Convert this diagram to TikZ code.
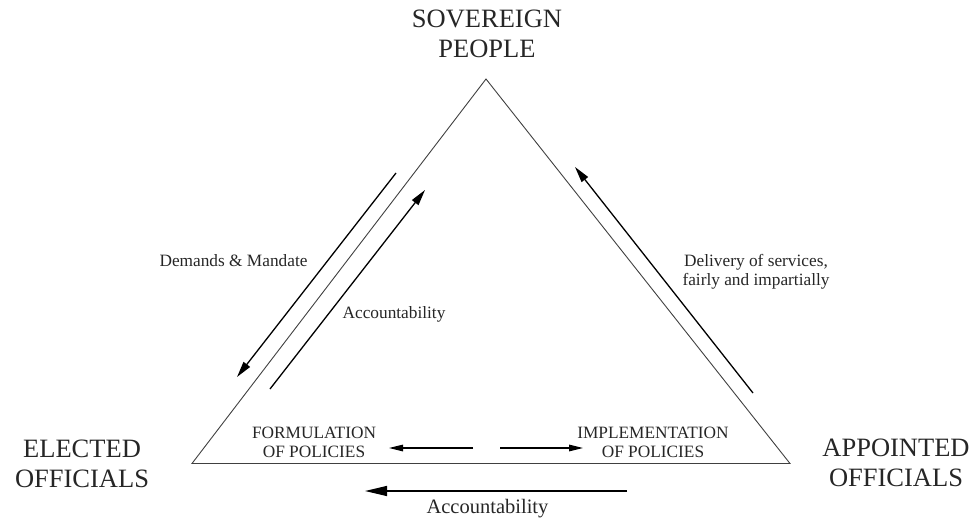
\documentclass[tikz,border=0pt]{standalone}
\usepackage{fontspec}
\setmainfont{Liberation Serif}
\usetikzlibrary{arrows.meta}
\begin{document}
\begin{tikzpicture}[x=1pt,y=-1pt,
  tri/.style={draw=black!75, line width=0.9pt},
  sidearrow/.style={draw=black, line width=1.3pt, -{Triangle[length=16pt,width=8pt]}},
  innerarrow/.style={draw=black, line width=1.3pt, -{Triangle[length=14pt,width=6.5pt]}},
  bottomarrow/.style={draw=black, line width=1.3pt, -{Triangle[length=22pt,width=10pt]}},
  biglabel/.style={font=\fontsize{26.5}{30}\selectfont, align=center, inner sep=0pt, text=black!85},
  smalllabel/.style={font=\fontsize{17.3}{19}\selectfont, align=center, inner sep=0pt, text=black!85},
  midlabel/.style={font=\fontsize{20.5}{24}\selectfont, inner sep=0pt, text=black!85}
]
\useasboundingbox (0,0) rectangle (974,519);
% triangle
\coordinate (apex) at (486,79);
\coordinate (bl) at (192,463.5);
\coordinate (br) at (790,463.5);
\draw[tri] (apex) -- (bl) -- (br) -- cycle;
% corner labels
\node[biglabel] (sov) at (487,34.3) {SOVEREIGN\\PEOPLE};
\node[biglabel] (ele) at (82,464) {ELECTED\\OFFICIALS};
\node[biglabel] (app) at (896,463) {APPOINTED\\OFFICIALS};
% inner labels
\node[smalllabel] (form) at (314,442.7) {FORMULATION\\OF POLICIES};
\node[smalllabel] (impl) at (653,442.5) {IMPLEMENTATION\\OF POLICIES};
% side labels
\node[smalllabel, anchor=base] (dem) at (233.5,266) {Demands \& Mandate};
\node[smalllabel, anchor=base] (acc1) at (394,318) {Accountability};
\node[smalllabel, font=\fontsize{17.3}{18.5}\selectfont] (del) at (756,272) {Delivery of services,\\fairly and impartially};
\node[midlabel, anchor=base] (acc2) at (487.5,513) {Accountability};
% side arrows
\coordinate (dmS) at (396,173);
\coordinate (dmE) at (237,377);
\draw[sidearrow] (dmS) -- (dmE);
\coordinate (acS) at (270,389);
\coordinate (acE) at (425,190);
\draw[sidearrow] (acS) -- (acE);
\coordinate (dvS) at (753,393);
\coordinate (dvE) at (575,167);
\draw[sidearrow] (dvS) -- (dvE);
% inner arrows
\coordinate (fS) at (473,448);
\coordinate (fE) at (389,448);
\draw[innerarrow] (fS) -- (fE);
\coordinate (iS) at (500,448);
\coordinate (iE) at (583,448);
\draw[innerarrow] (iS) -- (iE);
% bottom arrow
\coordinate (bS) at (627,491);
\coordinate (bE) at (365,491);
\draw[bottomarrow] (bS) -- (bE);
\end{tikzpicture}
\end{document}
